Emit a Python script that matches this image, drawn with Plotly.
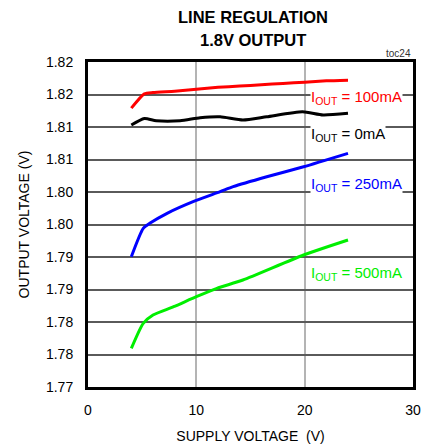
import plotly.graph_objects as go

# Data
x_100 = [4, 5.2, 6, 8, 10, 12, 14, 16, 18, 20, 22, 24]
y_100 = [1.8129, 1.8151, 1.8153, 1.8155, 1.8158, 1.8161, 1.8163, 1.8165, 1.8167, 1.8169, 1.8171, 1.8172]

x_0 = [4, 5.2, 6.3, 8.5, 10.35, 12.2, 14.3, 16.5, 19.8, 21.7, 24]
y_0 = [1.81031, 1.81131, 1.81097, 1.81097, 1.81143, 1.81158, 1.81108, 1.81158, 1.81235, 1.81185, 1.81211]

x_250 = [4, 5.1, 5.7, 7.3, 9.7, 12.2, 13.4, 16.5, 19.9, 24]
y_250 = [1.79005, 1.79441, 1.79518, 1.79672, 1.79851, 1.80005, 1.80082, 1.80235, 1.80389, 1.80595]

x_500 = [4, 5.1, 6.0, 7.9, 10.0, 11.9, 14.3, 19.9, 24]
y_500 = [1.77595, 1.77980, 1.78108, 1.78235, 1.78389, 1.78518, 1.78646, 1.79031, 1.79262]

y_tickvals = [1.770, 1.775, 1.780, 1.785, 1.790, 1.795, 1.800, 1.805, 1.810, 1.815, 1.820]
y_ticktext = ["1.77", "1.78", "1.78", "1.79", "1.79", "1.80", "1.80", "1.81", "1.81", "1.82", "1.82"]
x_tickvals = [0, 10, 20, 30]

series = [
    (x_100, y_100, "#ff0000", "I<sub>OUT</sub> = 100mA", 1.8145),
    (x_0, y_0, "#000000", "I<sub>OUT</sub> = 0mA", 1.8088),
    (x_250, y_250, "#0000ff", "I<sub>OUT</sub> = 250mA", 1.8011),
    (x_500, y_500, "#00ee00", "I<sub>OUT</sub> = 500mA", 1.7874),
]

FONT = "Arial, Liberation Sans, sans-serif"

fig = go.Figure()
for xs, ys, col, name, ly in series:
    fig.add_trace(go.Scatter(x=xs, y=ys, mode="lines", line=dict(color=col, width=3, shape="spline", smoothing=0.6),
                             showlegend=False, hoverinfo="skip"))
    fig.add_annotation(x=20.5, y=ly, xref="x", yref="y", text=name, showarrow=False, xanchor="left",
                       yanchor="middle", font=dict(family=FONT, size=15, color=col), bgcolor="white", borderpad=0)

fig.add_annotation(x=1, y=1, xref="paper", yref="paper", text="toc24", showarrow=False,
                   xanchor="right", yanchor="bottom", yshift=1, font=dict(family=FONT, size=10, color="#333333"))

# Title lines
fig.add_annotation(x=253, y=17, xref="paper", yref="paper", text="<b>LINE REGULATION</b>", showarrow=False)
fig.add_annotation(x=253, y=40, xref="paper", yref="paper", text="<b>1.8V OUTPUT</b>", showarrow=False)

fig.update_layout(
    width=429, height=444,
    margin=dict(l=88, r=16, t=62, b=57, autoexpand=False),
    paper_bgcolor="white", plot_bgcolor="white",
    font=dict(family=FONT, size=14, color="black"),
)
# convert title annotation pixel positions to paper coords
W, H = 429, 444
L, R, T, B = 88, 16, 62, 57
pw, ph = W - L - R, H - T - B
for ann in fig.layout.annotations[-2:]:
    px, py = ann.x, ann.y
    ann.x = (px - L) / pw
    ann.y = (H - B - py) / ph
    ann.xanchor = "center"
    ann.yanchor = "middle"
    ann.font = dict(family=FONT, size=16.5, color="black")

fig.update_xaxes(range=[0, 30], tickvals=x_tickvals, showgrid=True, gridcolor="#b4b4b4", gridwidth=1.5,
                 showline=True, linecolor="black", linewidth=3, mirror=True, zeroline=False, ticks="",
                 ticklabelstandoff=8, automargin=False,
                 title=dict(text="SUPPLY VOLTAGE  (V)", font=dict(size=14), standoff=22),
                 tickfont=dict(size=14))
fig.update_yaxes(range=[1.770, 1.820], tickvals=y_tickvals, ticktext=y_ticktext, showgrid=True,
                 gridcolor="#5a5a5a", gridwidth=1.5,
                 showline=True, linecolor="black", linewidth=3, mirror=True, zeroline=False, ticks="",
                 ticklabelstandoff=9, automargin=False,
                 title=dict(text="OUTPUT VOLTAGE (V)", font=dict(size=14), standoff=14),
                 tickfont=dict(size=14))

fig.write_html("out.html", config={"displayModeBar": False},
               post_script="document.body.style.margin='0';document.body.style.overflow='hidden';")
